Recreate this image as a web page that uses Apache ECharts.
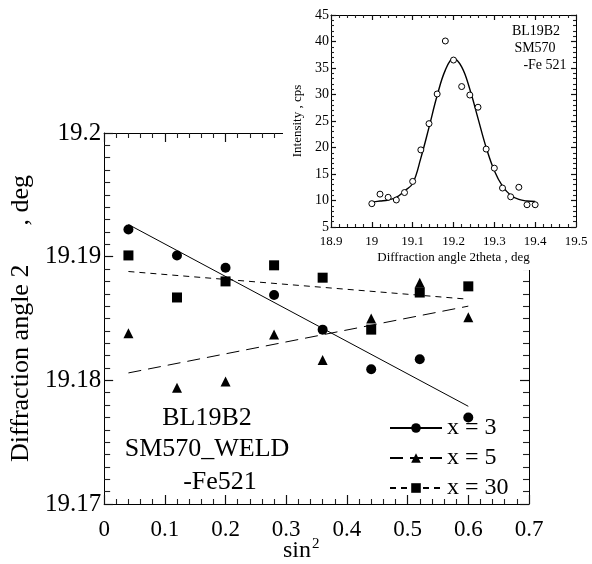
<!DOCTYPE html>
<html>
<head>
<meta charset="utf-8">
<script src="https://cdn.jsdelivr.net/npm/echarts@6/dist/echarts.min.js"></script>
<style>html,body{margin:0;padding:0;background:#fff}#c{width:592px;height:564px}</style>
</head>
<body>
<div id="c"></div>
<script>
// ---- main chart data (sin^2 psi vs diffraction angle) ----
var sin2psi = [0.04, 0.12, 0.20, 0.28, 0.36, 0.44, 0.52, 0.60];
var x3Vals  = [19.1922, 19.1901, 19.1891, 19.1869, 19.1841, 19.1809, 19.1817, 19.1770];
var x5Vals  = [19.1838, 19.1794, 19.1799, 19.1837, 19.18165, 19.1850, 19.1879, 19.1851];
var x30Vals = [19.1901, 19.1867, 19.1880, 19.1893, 19.1883, 19.1841, 19.1871, 19.1876];
var fitX    = [0.04, 0.60];
var x3Fit   = [19.1926, 19.1779];
var x5Fit   = [19.1806, 19.1860];
var x30Fit  = [19.1888, 19.18656];
var seriesNames = ['x = 3', 'x = 5', 'x = 30'];
var mainXTicks = ['0', '0.1', '0.2', '0.3', '0.4', '0.5', '0.6', '0.7'];
var mainYTicks = ['19.17', '19.18', '19.19', '19.2'];

// ---- inset data (diffraction profile) ----
var twoTheta = [19.00, 19.02, 19.04, 19.06, 19.08, 19.10, 19.12, 19.14, 19.16, 19.18, 19.20,
                19.22, 19.24, 19.26, 19.28, 19.30, 19.32, 19.34, 19.36, 19.38, 19.40];
var intensity = [9.4, 11.2, 10.6, 10.1, 11.5, 13.6, 19.55, 24.5, 30.1, 40.1, 36.5,
                 31.5, 29.9, 27.6, 19.7, 16.1, 12.35, 10.7, 12.5, 9.2, 9.2];
var profileFit = [9.7, 9.9, 10.1, 10.6, 11.8, 13.2, 18.0, 23.8, 29.8, 34.6, 36.8,
                  35.2, 31.0, 25.5, 20.0, 15.6, 12.7, 11.0, 10.2, 9.9, 9.8];

function pairs(xs, ys){ return xs.map(function(x,i){ return [x, ys[i]]; }); }

var serif = '"Liberation Serif", "Times New Roman", serif';
var chart = echarts.init(document.getElementById('c'));

function axis(o){
  var a = {
    type:'value', gridIndex:o.grid, position:o.pos, min:o.min, max:o.max, interval:o.interval,
    z:o.z || 0,
    axisLine:{show:true, onZero:false, lineStyle:{color:'#000000', width:1}},
    axisTick:{show:!!o.ticks, inside:true, length:o.tl, lineStyle:{color:'#111111', width:1.2}},
    minorTick:{show:!!o.ticks, splitNumber:o.split, length:o.ml, lineStyle:{color:'#222222', width:1.1}},
    splitLine:{show:false},
    axisLabel:{show:!!o.label}
  };
  if (o.label) a.axisLabel = o.label;
  if (o.name) {
    a.name = o.name; a.nameLocation = 'middle'; a.nameGap = o.nameGap;
    if (o.rot) a.nameRotate = 90;
    a.nameTextStyle = {color:'#000', fontFamily:serif, fontSize:o.nameSize};
  }
  return a;
}

var MX = {min:0, max:0.7, interval:0.1, split:5, tl:9, ml:5};
var MY = {min:19.17, max:19.2, interval:0.01, split:10, tl:9, ml:6};
var IX = {min:18.9, max:19.5, interval:0.1, split:5, tl:5, ml:3, z:20};
var IY = {min:5, max:45, interval:5, split:5, tl:5, ml:3, z:20};
function ext(base, more){ var r = {}; for (var k in base) r[k] = base[k]; for (var k2 in more) r[k2] = more[k2]; return r; }

var xAxes = [
  axis(ext(MX, {grid:0, pos:'bottom', ticks:true, label:{show:true, color:'#000', fontFamily:serif, fontSize:23, margin:14,
    formatter:function(v){ return mainXTicks[Math.round(v*10)]; }}})),
  axis(ext(MX, {grid:0, pos:'top', ticks:true})),
  axis(ext(IX, {grid:1, pos:'bottom', ticks:true, label:{show:true, color:'#000', fontFamily:serif, fontSize:13, margin:8,
    formatter:function(v){ return String(+v.toFixed(1)); }}, name:'Diffraction angle 2theta , deg', nameGap:24, nameSize:13})),
  axis(ext(IX, {grid:1, pos:'top', ticks:true}))
];
var yAxes = [
  axis(ext(MY, {grid:0, pos:'left', ticks:true, label:{show:true, color:'#000', fontFamily:serif, fontSize:25, margin:3,
    formatter:function(v){ return mainYTicks[Math.round((v-19.17)*100)]; }},
    name:'Diffraction angle 2      , deg', nameGap:67, rot:true, nameSize:26})),
  axis(ext(MY, {grid:0, pos:'right', ticks:true})),
  axis(ext(IY, {grid:1, pos:'left', ticks:true, label:{show:true, color:'#000', fontFamily:serif, fontSize:14, margin:2},
    name:'Intensity , cps', nameGap:27, rot:true, nameSize:13})),
  axis(ext(IY, {grid:1, pos:'right', ticks:true}))
];

var symbols = ['circle', 'triangle', 'rect'];
var vals = [x3Vals, x5Vals, x30Vals];
var fits = [x3Fit, x5Fit, x30Fit];
var dashes = ['solid', [13, 7], [6, 5]];

var series = [];
for (var i = 0; i < 3; i++) {
  series.push({
    type:'line', name:seriesNames[i], xAxisIndex:0, yAxisIndex:0,
    data:pairs(fitX, fits[i]), symbol:symbols[i], symbolSize:10, showSymbol:false,
    lineStyle:{color:'#000', width:1, type:dashes[i]}, itemStyle:{color:'#000'},
    silent:true, animation:false, z:3
  });
  series.push({
    type:'scatter', name:'pts' + i, xAxisIndex:0, yAxisIndex:0,
    data:pairs(sin2psi, vals[i]), symbol:symbols[i], symbolSize:10,
    itemStyle:{color:'#000', opacity:1}, animation:false, z:4
  });
}
series.push({
  type:'line', name:'fit', xAxisIndex:2, yAxisIndex:2,
  data:pairs(twoTheta, profileFit), smooth:0.4, showSymbol:false, symbol:'none',
  lineStyle:{color:'#000', width:1.4}, animation:false, z:21
});
series.push({
  type:'scatter', name:'profile', xAxisIndex:2, yAxisIndex:2,
  data:pairs(twoTheta, intensity), symbol:'circle', symbolSize:6,
  itemStyle:{color:'#fff', borderColor:'#000', borderWidth:1, opacity:1}, animation:false, z:22
});

chart.setOption({
  backgroundColor:'#fff',
  animation:false,
  grid:[
    {left:103, top:133, right:63, bottom:60},
    {left:331, top:15, right:16, bottom:337, z:20}
  ],
  xAxis:xAxes,
  yAxis:yAxes,
  legend:{
    data:seriesNames, orient:'vertical', left:389, top:416, itemGap:6,
    itemWidth:52, itemHeight:12, itemStyle:{color:'#000'},
    textStyle:{color:'#000', fontFamily:serif, fontSize:24}, padding:0, selectedMode:false
  },
  graphic:[
    {type:'rect', z:10, shape:{x:283, y:0, width:309, height:270}, style:{fill:'#fff'}, silent:true},
    {type:'text', z:30, x:207, y:418, style:{text:'BL19B2', font:'26px ' + serif, fill:'#000', align:'center', verticalAlign:'middle'}},
    {type:'text', z:30, x:207, y:449, style:{text:'SM570_WELD', font:'26px ' + serif, fill:'#000', align:'center', verticalAlign:'middle'}},
    {type:'text', z:30, x:220, y:482, style:{text:'-Fe521', font:'26px ' + serif, fill:'#000', align:'center', verticalAlign:'middle'}},
    {type:'text', z:30, x:536, y:31, style:{text:'BL19B2', font:'14px ' + serif, fill:'#000', align:'center', verticalAlign:'middle'}},
    {type:'text', z:30, x:535, y:48, style:{text:'SM570', font:'14px ' + serif, fill:'#000', align:'center', verticalAlign:'middle'}},
    {type:'text', z:30, x:545, y:65, style:{text:'-Fe 521', font:'14px ' + serif, fill:'#000', align:'center', verticalAlign:'middle'}},
    {type:'text', z:30, x:283, y:537, style:{
      text:'{a|sin}{b|2}', fill:'#000', align:'left', verticalAlign:'top',
      rich:{a:{fontFamily:serif, fontSize:24, fill:'#000', lineHeight:26, verticalAlign:'bottom'},
            b:{fontFamily:serif, fontSize:15, fill:'#000', lineHeight:26, verticalAlign:'top', padding:[0,0,0,1]}}}}
  ],
  series:series
});
</script>
</body>
</html>
